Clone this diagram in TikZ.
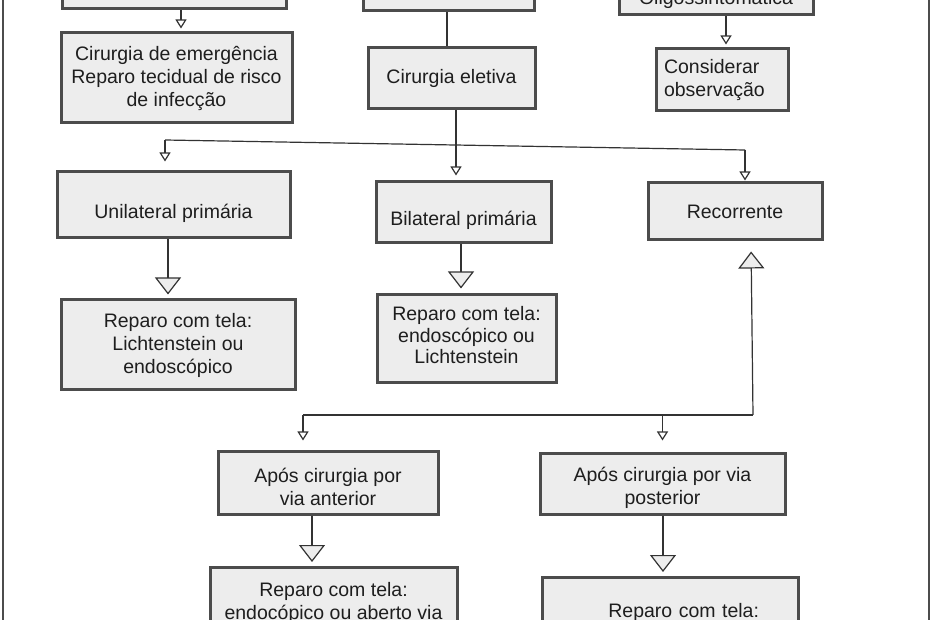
\documentclass[tikz,border=0pt]{standalone}
\usepackage{fontspec}
\setmainfont{Liberation Sans}
\usetikzlibrary{arrows.meta}
\definecolor{boxfill}{HTML}{EDEDED}
\definecolor{boxline}{HTML}{4C4C4C}
\definecolor{linkline}{HTML}{333333}
\definecolor{txt}{HTML}{1E1E1E}

\begin{document}
\begin{tikzpicture}[x=1pt, y=-1pt,
    box/.style={rectangle, draw=boxline, fill=boxfill, line width=3pt, align=center, text=txt, font=\fontsize{19.5}{23}\selectfont, inner sep=4pt},
    link/.style={draw=linkline, line width=1.2pt},
    smallarr/.style={link, -{Triangle[open, length=9pt, width=11pt]}},
    bigarr/.style={link, -{Triangle[length=17pt, width=26pt, fill=boxfill]}}]
  \useasboundingbox (0,0) rectangle (930,620);
  \clip (0,0) rectangle (930,620);

  % page frame
  \draw[boxline, line width=2pt] (3,0) -- (3,620);
  \draw[boxline, line width=2pt] (929,0) -- (929,620);

  % boxes
  \node[box, minimum width=224pt, minimum height=70pt] (topL) at (174,-26) {};
  \node[box, minimum width=171pt, minimum height=70pt] (topM) at (448.5,-24) {};
  \node[box, anchor=base, minimum width=194pt, text height=55pt, text depth=10pt, inner ysep=0pt] (oligo) at (716,5) {Oligossintomática};
  \node[box, minimum width=231pt, minimum height=90pt] (emerg) at (176.5,78) {Cirurgia de emergência\\Reparo tecidual de risco\\de infecção};
  \node[box, minimum width=167pt, minimum height=61pt] (eletiva) at (451.5,78.5) {Cirurgia eletiva};
  \node[box, minimum width=132pt, minimum height=62pt, text width=116pt, align=left, inner xsep=8pt] (consid) at (722,80) {Considerar\\observação};
  \node[box, minimum width=233pt, minimum height=66pt, text height=32pt] (unil) at (173.5,205) {Unilateral primária};
  \node[box, minimum width=175pt, minimum height=61pt, text height=31pt] (bilat) at (463.5,212.5) {Bilateral primária};
  \node[box, minimum width=174pt, minimum height=57pt] (recor) at (735,211.5) {Recorrente};
  \node[box, minimum width=234pt, minimum height=90pt] (rep1) at (178,345) {Reparo com tela:\\Lichtenstein ou\\endoscópico};
  \node[box, minimum width=179pt, minimum height=88pt] (rep2) at (466.5,339) {Reparo com tela:\\[-1.5pt]endoscópico ou\\[-1.5pt]Lichtenstein\rule[-8pt]{0pt}{0pt}};
  \node[box, minimum width=220pt, minimum height=62pt] (ant) at (328,483) {\rule{0pt}{22pt}Após cirurgia por\\via anterior};
  \node[box, minimum width=245pt, minimum height=60pt] (post) at (662.5,484) {\rule{0pt}{22pt}Após cirurgia por via\\posterior};
  \node[box, anchor=north, minimum width=247pt, inner ysep=15pt] (rep3) at (333.5,566) {Reparo com tela:\\endocópico ou aberto via};
  \node[box, anchor=north, text width=178pt, align=right, inner xsep=39pt, inner ysep=26pt] (rep4) at (670,576) {Reparo com tela:};

  % branch points
  \coordinate (jL) at (165,140);
  \coordinate (jR) at (745,150);
  \coordinate (kL) at (303,415);
  \coordinate (kR) at (753,415);

  \draw[smallarr, shorten >=3pt] (topL.south -| 181,0) -- (emerg.north -| 181,0);
  \draw[link] (topM.south -| 447,0) -- (eletiva.north -| 447,0);
  \draw[smallarr, shorten >=3pt] (oligo.south -| 726,0) -- (consid.north -| 726,0);
  \draw[link] (jL) -- (jR);
  \draw[smallarr, shorten >=9pt] (jL) -- (unil.north -| jL);
  \draw[smallarr, shorten >=5pt] (eletiva.south -| 456,0) -- (bilat.north -| 456,0);
  \draw[smallarr, shorten >=1pt] (jR) -- (recor.north -| jR);
  \draw[bigarr, shorten >=4pt] (unil.south -| 168,0) -- (rep1.north -| 168,0);
  \draw[bigarr, shorten >=5pt] (bilat.south -| 461,0) -- (rep2.north -| 461,0);
  \draw[link] (kL) -- (kR);
  \draw[bigarr, shorten >=10pt] (kR) -- (recor.south -| 751,0);
  \draw[smallarr, shorten >=10pt] (kL) -- (ant.north -| kL);
  \draw[smallarr, shorten >=12pt] (kL -| post.north) -- (post.north);
  \draw[bigarr, shorten >=4pt] (ant.south -| 312,0) -- (rep3.north -| 312,0);
  \draw[bigarr, shorten >=4pt] (post.south -| 663,0) -- (rep4.north -| 663,0);
\end{tikzpicture}
\end{document}
